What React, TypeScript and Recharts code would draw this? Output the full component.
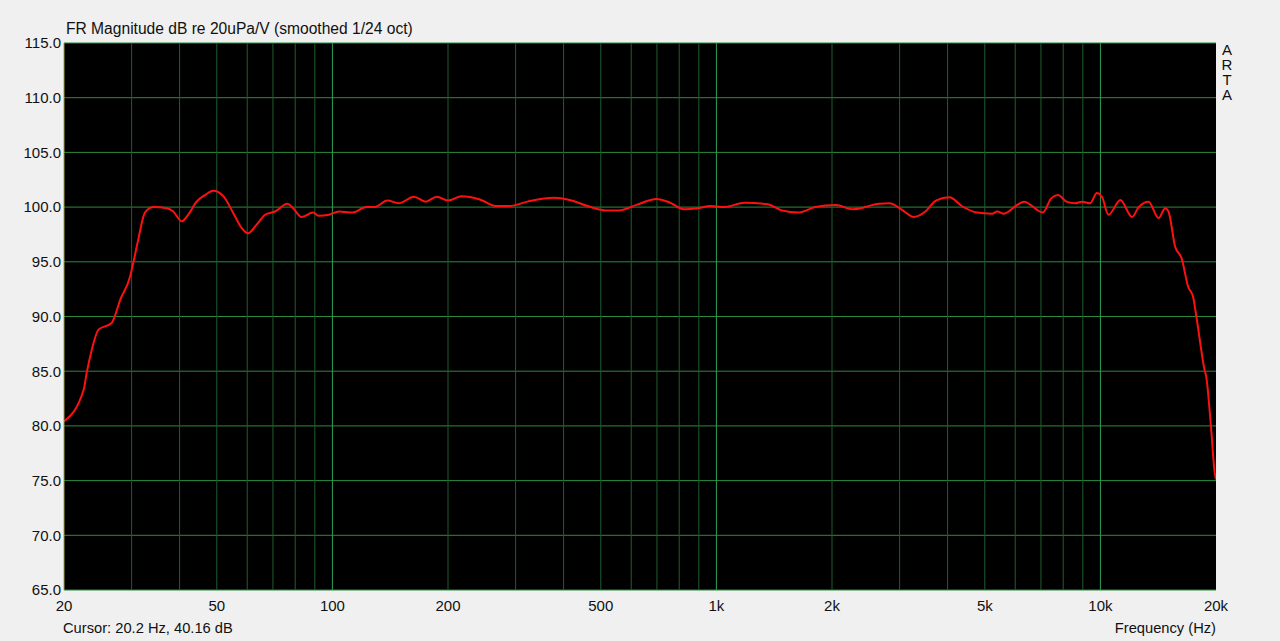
import { LineChart, Line, XAxis, YAxis, CartesianGrid, ReferenceLine } from 'recharts';

// frequency points (Hz)
const freqHz = [
  20, 22.5, 22.9, 23.6, 24.6, 26.6, 27.1, 28, 29.7, 30.3, 31.2, 32.5, 34.2, 37.1, 38.5, 40.5, 42.1, 44.3, 46.6,
  49, 52, 55.3, 58, 60.3, 63.5, 66.8, 70.9, 76.4, 79, 83.1, 89, 92.2, 98, 104, 112.5, 122.7, 129, 139, 149, 163,
  175, 187, 200, 217, 242, 266, 289, 322, 378, 415, 466, 516, 559, 619, 698, 758, 822, 891, 966, 1048, 1184, 1362,
  1477, 1636, 1810, 2045, 2264, 2656, 2825, 3030, 3263, 3502, 3730, 4046, 4354, 4770, 5224, 5385, 5605, 6075, 6325,
  7082, 7442, 7752, 8165, 8590, 8950, 9400, 9790, 10090, 10500, 11270, 12090, 12580, 13350, 14170, 14750, 15040,
  15650, 16280, 16930, 17430, 17780, 18680, 18860, 19410, 19850, 20000,
];

// magnitude (dB re 20uPa/V), same order as freqHz
const magnitudeDb = [
  80.4, 83.3, 84.8, 86.9, 88.8, 89.4, 90.0, 91.5, 93.6, 94.9, 97.0, 99.5, 100.0, 99.9, 99.6, 98.7, 99.3, 100.5, 101.1,
  101.5, 101.0, 99.4, 98.1, 97.6, 98.4, 99.3, 99.6, 100.3, 99.9, 99.1, 99.5, 99.2, 99.3, 99.6, 99.5, 100.0, 100.0,
  100.6, 100.35, 100.95, 100.5, 100.95, 100.6, 101.0, 100.7, 100.1, 100.1, 100.5, 100.85, 100.65, 100.05, 99.7, 99.7,
  100.2, 100.75, 100.4, 99.8, 99.9, 100.1, 100.0, 100.4, 100.25, 99.7, 99.5, 100.0, 100.2, 99.8, 100.3, 100.35, 99.8,
  99.1, 99.6, 100.6, 100.9, 100.1, 99.5, 99.4, 99.6, 99.4, 100.2, 100.5, 99.5, 100.8, 101.1, 100.5, 100.35, 100.5,
  100.35, 101.3, 100.95, 99.3, 100.65, 99.1, 100.0, 100.5, 99.0, 99.9, 99.6, 96.4, 95.3, 92.7, 91.8, 90.0, 85.1, 84.5,
  79.9, 75.7, 75.1,
];

const xTicks = [20, 50, 100, 200, 500, 1000, 2000, 5000, 10000, 20000];
const yTicks = [65, 70, 75, 80, 85, 90, 95, 100, 105, 110, 115];
const majorGridHz = [100, 1000, 10000];
const minorGridHz = [
  30, 40, 50, 60, 70, 80, 90, 200, 300, 400, 500, 600, 700, 800, 900, 2000, 3000, 4000, 5000, 6000, 7000, 8000, 9000,
];

const data = freqHz.map((f, i) => ({ f, db: magnitudeDb[i] }));

const font = '"Liberation Sans", Arial, sans-serif';

const fmtHz = (v: number) => (v >= 1000 ? `${v / 1000}k` : `${v}`);

export default function App() {
  return (
    <div
      style={{
        position: 'fixed',
        left: 0,
        top: 0,
        width: 1280,
        height: 641,
        background: '#f0f0f0',
        fontFamily: font,
        color: '#111',
      }}
    >
      <div style={{ position: 'absolute', left: 66, top: 20, fontSize: 15.6, lineHeight: '18px' }}>
        FR Magnitude dB re 20uPa/V (smoothed 1/24 oct)
      </div>
      <div
        style={{
          position: 'absolute',
          left: 1220,
          top: 42,
          width: 14,
          fontSize: 15,
          lineHeight: '15px',
          textAlign: 'center',
        }}
      >
        A<br />R<br />T<br />A
      </div>
      <div style={{ position: 'absolute', left: 63, top: 620, fontSize: 14.7, lineHeight: '17px' }}>
        Cursor: 20.2 Hz, 40.16 dB
      </div>
      <div style={{ position: 'absolute', right: 64, top: 620, fontSize: 14.7, lineHeight: '17px' }}>
        Frequency (Hz)
      </div>
      <LineChart width={1280} height={641} data={data} margin={{ top: 43, right: 64, bottom: 21, left: 0 }}>
        <CartesianGrid fill="#000" stroke="#2b8a3e" vertical={false} horizontal={true} />
        <XAxis
          dataKey="f"
          type="number"
          scale="log"
          domain={[20, 20000]}
          allowDataOverflow
          ticks={xTicks}
          tickFormatter={fmtHz}
          height={30}
          axisLine={false}
          tickLine={false}
          tickSize={0}
          tickMargin={10}
          tick={{ fill: '#111', fontSize: 15, fontFamily: font }}
        />
        <YAxis
          type="number"
          domain={[65, 115]}
          ticks={yTicks}
          tickFormatter={(v: number) => v.toFixed(1)}
          width={64}
          axisLine={{ stroke: '#a8a040', strokeWidth: 1 }}
          tickLine={false}
          tickSize={0}
          tickMargin={3}
          tick={{ fill: '#111', fontSize: 15, fontFamily: font }}
        />
        {minorGridHz.map((f) => (
          <ReferenceLine key={`m${f}`} x={f} stroke="#1d5f2d" strokeWidth={1} />
        ))}
        {majorGridHz.map((f) => (
          <ReferenceLine key={`M${f}`} x={f} stroke="#2fa055" strokeWidth={1} />
        ))}
        <Line
          dataKey="db"
          type="monotone"
          stroke="#ff1010"
          strokeWidth={2}
          dot={false}
          isAnimationActive={false}
        />
      </LineChart>
    </div>
  );
}
